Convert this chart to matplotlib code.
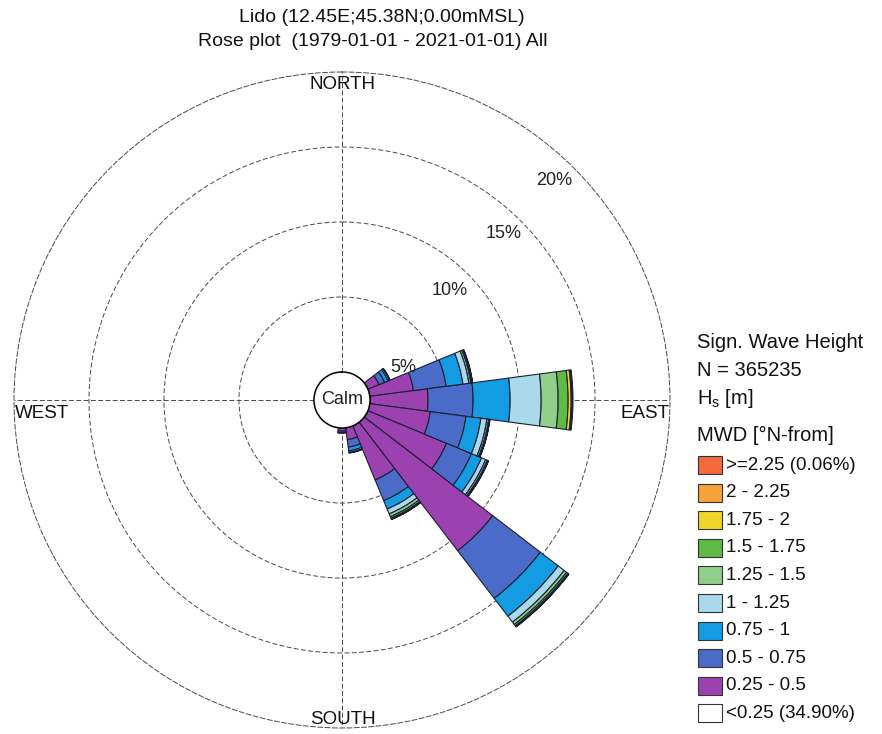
import numpy as np
import matplotlib
matplotlib.use("Agg")
import matplotlib.pyplot as plt
from matplotlib.patches import Rectangle

plt.rcParams['font.family'] = ['Liberation Sans', 'DejaVu Sans']
plt.rcParams['mathtext.fontset'] = 'custom'
plt.rcParams['mathtext.rm'] = 'Liberation Sans'
plt.rcParams['mathtext.it'] = 'Liberation Sans'

# ---- data -------------------------------------------------------------
station = "Lido (12.45E;45.38N;0.00mMSL)"
period = "Rose plot  (1979-01-01 - 2021-01-01) All"
n_obs = 365235
calm_pct = 34.90

# mean wave direction sectors (deg, coming from), 15 deg wide
directions = [60, 75, 90, 105, 120, 135, 150, 165, 180]

# frequency (%) per sector for each Hs class
hs_025_050 = [0.80, 2.93, 3.87, 4.07, 5.67, 10.80, 3.90, 0.80, 0.20]
hs_050_075 = [0.40, 2.20, 3.00, 2.40, 1.80, 4.00, 1.50, 0.50, 0.10]
hs_075_100 = [0.25, 1.13, 2.47, 1.00, 0.73, 1.50, 0.60, 0.25, 0.05]
hs_100_125 = [0.10, 0.40, 2.07, 0.40, 0.30, 0.50, 0.35, 0.10, 0.00]
hs_125_150 = [0.03, 0.13, 1.13, 0.12, 0.12, 0.20, 0.20, 0.03, 0.00]
hs_150_175 = [0.02, 0.08, 0.67, 0.06, 0.06, 0.12, 0.12, 0.02, 0.00]
hs_175_200 = [0.00, 0.03, 0.20, 0.02, 0.02, 0.05, 0.05, 0.00, 0.00]
hs_200_225 = [0.00, 0.01, 0.08, 0.01, 0.01, 0.02, 0.02, 0.00, 0.00]
hs_ge_225 = [0.00, 0.00, 0.04, 0.00, 0.00, 0.01, 0.01, 0.00, 0.00]

class_labels = ['0.25 - 0.5', '0.5 - 0.75', '0.75 - 1', '1 - 1.25',
                '1.25 - 1.5', '1.5 - 1.75', '1.75 - 2', '2 - 2.25']
class_colors = ['#9b42b0', '#4b6bc9', '#149ce2', '#a9d9ea',
                '#8fcf8a', '#5dbb45', '#f2d52a', '#f7a23b', '#f36b3d']
calm_color = '#ffffff'

ring_ticks = [5, 10, 15, 20]

# ---- figure -----------------------------------------------------------
W, H = 882, 734
fig = plt.figure(figsize=(W / 100, H / 100), dpi=100)


def fx(px):
    return px / W


def fy(py):
    return 1 - py / H


# polar rose: centre at (342, 400) px, outer ring radius 328 px
cx, cy, rad = 342, 400, 328
ax = fig.add_axes([fx(cx - rad), fy(cy + rad), 2 * rad / W, 2 * rad / H],
                  projection='polar')
ax.set_theta_zero_location('N')
ax.set_theta_direction(-1)
ax.set_ylim(0, ring_ticks[-1])
ax.set_rorigin(-1.87)
ax.set_axisbelow(True)

grid_style = dict(color='#4a4a4a', linewidth=0.7, linestyle=(0, (5, 2.5)))
ax.set_rgrids(ring_ticks[:-1], labels=[''] * (len(ring_ticks) - 1))
ax.set_thetagrids([0, 90, 180, 270], labels=[''] * 4)
ax.grid(True, **grid_style)
ax.spines['polar'].set_linestyle((0, (5, 2.5)))
ax.spines['polar'].set_color('#4a4a4a')
ax.spines['polar'].set_linewidth(0.7)
ax.spines['inner'].set_color('black')
ax.spines['inner'].set_linewidth(1.1)
ax.tick_params(length=0)

theta = np.deg2rad(directions)
width = np.deg2rad(15)
classes = [hs_025_050, hs_050_075, hs_075_100, hs_100_125, hs_125_150,
           hs_150_175, hs_175_200, hs_200_225, hs_ge_225]
bottom = np.zeros(len(directions))
for vals, col in zip(classes, class_colors):
    vals = np.asarray(vals, dtype=float)
    m = vals > 0
    ax.bar(theta[m], vals[m], width=width, bottom=bottom[m], color=col,
           edgecolor='#1d1d35', linewidth=0.8, zorder=2)
    bottom += vals

# ring labels
ring_label_pos = [(62, 2.75), (44.5, 8.4), (44, 13.6), (44, 18.5)]
for t, (ang, r) in zip(ring_ticks, ring_label_pos):
    ax.text(np.deg2rad(ang), r, f'{t}%', ha='center', va='center',
            fontsize=13, color='#222222', zorder=5)

# calm label in the centre
ax.text(0.5, 0.5, 'Calm', transform=ax.transAxes, ha='center',
        va='center', fontsize=13, color='#222222')

# compass labels
ax.text(0.5015, 0.9817, 'NORTH', transform=ax.transAxes, ha='center',
        va='center', fontsize=13.5, color='#111111')
ax.text(0.5015, 0.013, 'SOUTH', transform=ax.transAxes, ha='center',
        va='center', fontsize=13.5, color='#111111')
ax.text(0.0015, 0.479, 'WEST', transform=ax.transAxes, ha='left',
        va='center', fontsize=13.5, color='#111111')
ax.text(1.0, 0.479, 'EAST', transform=ax.transAxes, ha='right',
        va='center', fontsize=13.5, color='#111111')

# titles
fig.text(fx(382), fy(18), station, ha='center', va='center', fontsize=14,
         color='#111111')
fig.text(fx(373), fy(42), period, ha='center', va='center', fontsize=14,
         color='#111111')

# legend block
hx = 697
fig.text(fx(hx), fy(343), 'Sign. Wave Height', ha='left', va='center',
         fontsize=14.5, color='#111111')
fig.text(fx(hx), fy(370), f'N = {n_obs}', ha='left', va='center',
         fontsize=14.5, color='#111111')
fig.text(fx(hx), fy(398), r'H$_{\mathrm{s}}$ [m]', ha='left', va='center',
         fontsize=14.5, color='#111111')
fig.text(fx(hx), fy(435), 'MWD [°N-from]', ha='left', va='center',
         fontsize=14.5, color='#111111')

share_ge225 = float(np.sum(hs_ge_225))
entries = [(f'>=2.25 ({share_ge225:.2f}%)', class_colors[-1])]
for lab, col in reversed(list(zip(class_labels, class_colors[:-1]))):
    entries.append((lab, col))
entries.append((f'<0.25 ({calm_pct:.2f}%)', calm_color))

y0, dy = 465, 27.6
for i, (lab, col) in enumerate(entries):
    yc = y0 + i * dy
    fig.add_artist(Rectangle((fx(698), fy(yc + 9)), 24 / W, 18 / H,
                             transform=fig.transFigure, facecolor=col,
                             edgecolor='#333333', linewidth=0.8))
    fig.text(fx(726), fy(yc), lab, ha='left', va='center', fontsize=13.5,
             color='#111111')

fig.savefig('out.png', dpi=100, facecolor='white')
